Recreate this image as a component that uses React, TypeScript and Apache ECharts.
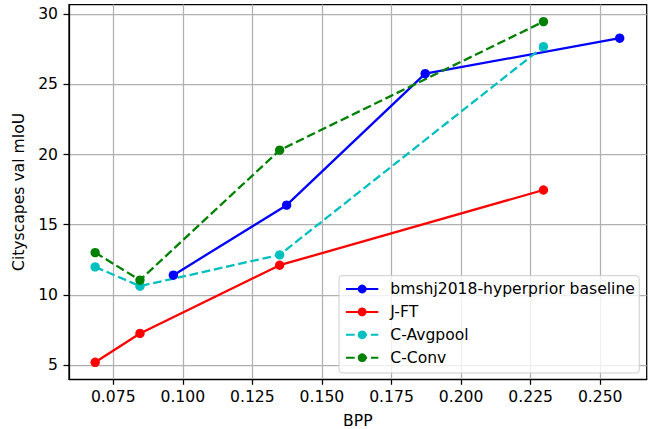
import React, { useEffect, useRef } from "react";
import * as echarts from "echarts";

const seriesNames = ["bmshj2018-hyperprior baseline", "J-FT", "C-Avgpool", "C-Conv"];
const blueData: [number, number][] = [[0.0966, 11.40], [0.1373, 16.39], [0.1871, 25.76], [0.257, 28.29]];
const redData: [number, number][] = [[0.0685, 5.19], [0.0846, 7.25], [0.1348, 12.11], [0.2296, 17.47]];
const cyanData: [number, number][] = [[0.0685, 11.99], [0.0846, 10.62], [0.1348, 12.85], [0.2296, 27.69]];
const greenData: [number, number][] = [[0.0685, 13.01], [0.0846, 11.05], [0.1348, 20.31], [0.2296, 29.47]];
const xTicks = [0.075, 0.1, 0.125, 0.15, 0.175, 0.2, 0.225, 0.25];
const yTicks = [5, 10, 15, 20, 25, 30];

const FONT = "DejaVu Sans";
const FS = 15.6;
const DASH = [8.7, 3.75];

export default function App() {
  const ref = useRef<HTMLDivElement>(null);
  useEffect(() => {
    if (!ref.current) return;
    const chart = echarts.init(ref.current, null, { renderer: "svg" });
    const mk = (name: string, data: [number, number][], color: string, dashed: boolean) => ({
      name,
      type: "line",
      data,
      symbol: "circle",
      symbolSize: 9.4,
      itemStyle: { color },
      lineStyle: { color, width: 2.3, type: dashed ? DASH : "solid" },
      emphasis: { disabled: true },
    });
    chart.setOption({
      animation: false,
      backgroundColor: "#fff",
      textStyle: { fontFamily: FONT },
      grid: {
        left: 69,
        right: 8.3,
        top: 4.5,
        bottom: 49.7,
        show: true,
        borderColor: "#000",
        borderWidth: 1.25,
        containLabel: false,
        outerBoundsMode: "none",
      },
      xAxis: {
        type: "value",
        min: 0.0591,
        max: 0.2667,
        name: "BPP",
        nameLocation: "middle",
        nameGap: 33.5,
        nameTextStyle: { fontFamily: FONT, fontSize: FS, color: "#000" },
        axisLine: { show: true, lineStyle: { color: "#000", width: 1.25 } },
        axisTick: { show: true, length: 5.5, customValues: xTicks, lineStyle: { color: "#000", width: 1.25 } },
        axisLabel: {
          customValues: xTicks,
          margin: 10,
          fontFamily: FONT,
          fontSize: FS,
          color: "#000",
          formatter: (v: number) => v.toFixed(3),
        },
        splitLine: { show: true, lineStyle: { color: "#b0b0b0", width: 1.25 } },
      },
      yAxis: {
        type: "value",
        min: 3.98,
        max: 30.69,
        name: "Cityscapes val mIoU",
        nameLocation: "middle",
        nameGap: 34,
        nameTextStyle: { fontFamily: FONT, fontSize: FS, color: "#000" },
        axisLine: { show: true, lineStyle: { color: "#000", width: 1.25 } },
        axisTick: { show: true, length: 5.5, customValues: yTicks, lineStyle: { color: "#000", width: 1.25 } },
        axisLabel: {
          customValues: yTicks,
          margin: 11,
          fontFamily: FONT,
          fontSize: FS,
          color: "#000",
          formatter: (v: number) => String(Math.round(v)),
        },
        splitLine: { show: true, lineStyle: { color: "#b0b0b0", width: 1.25 } },
      },
      legend: {
        orient: "vertical",
        left: 339,
        top: 275.7,
        padding: [5.3, 4.3, 7.3, 6],
        itemWidth: 32.3,
        itemHeight: 11,
        itemGap: 6.9,
        backgroundColor: "rgba(255,255,255,0.8)",
        borderColor: "#cccccc",
        borderWidth: 1,
        borderRadius: 3,
        data: seriesNames,
        textStyle: { fontFamily: FONT, fontSize: FS, color: "#000", lineHeight: 16, padding: [0, 0, 0, 7] },
      },
      series: [
        mk(seriesNames[0], blueData, "#0000ff", false),
        mk(seriesNames[1], redData, "#ff0000", false),
        mk(seriesNames[2], cyanData, "#00bfbf", true),
        mk(seriesNames[3], greenData, "#008000", true),
      ],
    });
    return () => chart.dispose();
  }, []);
  return (
    <div
      ref={ref}
      style={{ position: "fixed", left: 0, top: 0, width: 655, height: 429 }}
    />
  );
}
